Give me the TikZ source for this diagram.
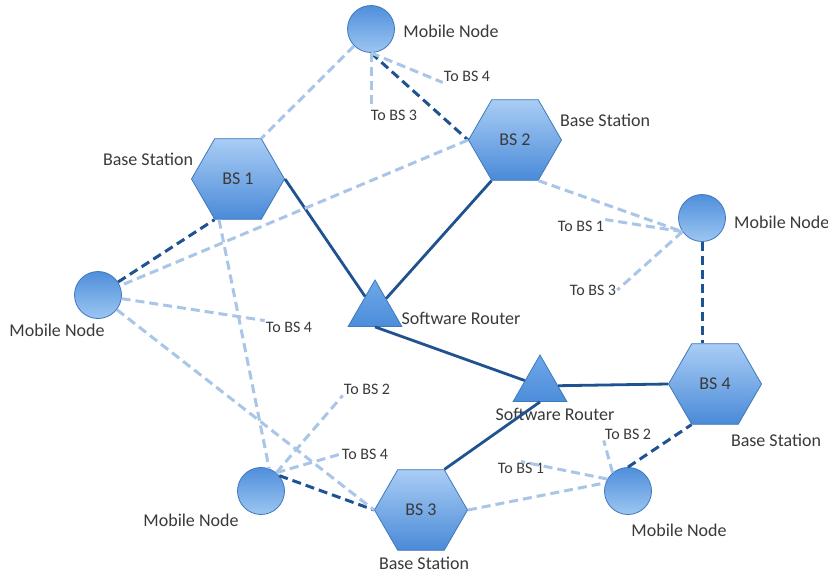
\documentclass[tikz,border=0pt]{standalone}
\usepackage{fontspec}
\setmainfont{Carlito}
\usetikzlibrary{shapes.geometric}
\definecolor{hexlight}{HTML}{A9CDF5}
\definecolor{hexdark}{HTML}{4A8AD8}
\definecolor{moblight}{HTML}{9CC6F2}
\definecolor{mobdark}{HTML}{4F8FDB}
\definecolor{routertop}{HTML}{6FA8E8}
\definecolor{routerbot}{HTML}{4C8CDA}
\definecolor{nodeedge}{HTML}{3F78BC}
\definecolor{linkdark}{HTML}{1F5290}
\definecolor{linklight}{HTML}{A9C6E8}
\definecolor{txt}{HTML}{3A3A3A}
\begin{document}
\begin{tikzpicture}[x=1pt,y=-1pt,
    basestn/.style={regular polygon,regular polygon sides=6,minimum size=93pt,inner sep=0pt,
        draw=nodeedge,line width=0.8pt,top color=hexlight,bottom color=hexdark,
        font=\fontsize{18}{20}\selectfont,text=txt},
    mobile/.style={circle,minimum size=47pt,inner sep=0pt,draw=nodeedge,line width=0.8pt,
        top color=mobdark,bottom color=moblight},
    router/.style={regular polygon,regular polygon sides=3,minimum size=62pt,inner sep=0pt,
        draw=nodeedge,line width=0.8pt,top color=routertop,bottom color=routerbot},
    lbl/.style={font=\fontsize{18}{20}\selectfont,text=txt,inner sep=1pt},
    tolbl/.style={font=\fontsize{16}{18}\selectfont,text=txt,inner sep=1pt},
    wired/.style={draw=linkdark,line width=2.8pt},
    primary/.style={draw=linkdark,line width=3pt,dash pattern=on 9pt off 5pt},
    backup/.style={draw=linklight,line width=3pt,dash pattern=on 9pt off 5pt}]
    \useasboundingbox[fill=white] (0,0) rectangle (828,573);

    % base stations, mobile nodes, routers
    \node[basestn] (bs1) at (238,179) {BS 1};
    \node[basestn] (bs2) at (515,140) {BS 2};
    \node[basestn] (bs3) at (421,510) {BS 3};
    \node[basestn] (bs4) at (715,384) {BS 4};
    \node[mobile] (mnT) at (371,29) {};
    \node[mobile] (mnR) at (702,218) {};
    \node[mobile] (mnL) at (98,295) {};
    \node[mobile] (mnBL) at (261,491) {};
    \node[mobile] (mnBR) at (628,491) {};
    \node[router] (r1) at (375,311) {};
    \node[router] (r2) at (540,386) {};

    % labels
    \node[lbl] (tMT) at (451,31) {Mobile Node};
    \node[lbl] (tB2) at (605,120) {Base Station};
    \node[lbl] (tB1) at (148,159) {Base Station};
    \node[lbl,anchor=west] (tMR) at (733,222) {Mobile Node};
    \node[lbl] (tML) at (57,330) {Mobile Node};
    \node[lbl] (tR1) at (461,318) {Software Router};
    \node[lbl] (tR2) at (555,414) {Software Router};
    \node[lbl] (tB4) at (776,440) {Base Station};
    \node[lbl] (tMBL) at (191,520) {Mobile Node};
    \node[lbl] (tMBR) at (679,530) {Mobile Node};
    \node[lbl] (tB3) at (424,563) {Base Station};
    \node[tolbl] (toT4) at (467,76) {To BS 4};
    \node[tolbl] (toT3) at (394,115) {To BS 3};
    \node[tolbl] (toR1) at (581,226) {To BS 1};
    \node[tolbl] (toR3) at (593,290) {To BS 3};
    \node[tolbl] (toL4) at (289,327) {To BS 4};
    \node[tolbl] (toBL2) at (367,389) {To BS 2};
    \node[tolbl] (toBL4) at (365,454) {To BS 4};
    \node[tolbl] (toBR2) at (628,434) {To BS 2};
    \node[tolbl] (toBR1) at (521,468) {To BS 1};

    % wired links to the routers
    \draw[wired] (bs1.0) -- (r1);
    \draw[wired] (bs2.240) -- (r1);
    \draw[wired] (r1.south) -- (r2);
    \draw[wired] (r2) -- (bs4.180);
    \draw[wired] (bs3.60) -- (r2.south);

    % attached base station
    \draw[primary] (mnT.south) -- (bs2.180);
    \draw[primary] (mnR.south) -- (mnR.south |- bs4.north);
    \draw[primary] (mnL) -- (bs1.240);
    \draw[primary] (mnBL.40) -- (bs3.180);
    \draw[primary] (mnBR.north) -- (bs4.240);

    % other base stations in range
    \draw[backup] (mnT) -- (bs1.60);
    \draw[backup] (mnT.south) -- (toT4.south west);
    \draw[backup] (mnT.south) -- (mnT.south |- toT3.north);
    \draw[backup] (bs2.180) -- (mnL);
    \draw[backup] (bs2.300) -- (mnR.215);
    \draw[backup] (mnR.215) -- (toR1.north east);
    \draw[backup] (mnR.215) -- (toR3.east);
    \draw[backup] (mnL) -- (toL4.north west);
    \draw[backup] (mnL) -- (bs3.180);
    \draw[backup] (bs1.245) -- (mnBL.70);
    \draw[backup] (mnBL.50) -- (toBL2.south west);
    \draw[backup] (mnBL.50) -- (toBL4.west);
    \draw[backup] (bs3.0) -- (mnBR.160);
    \draw[backup] (mnBR.150) -- (toBR1.north);
    \draw[backup] (mnBR.130) -- (toBR2.south west);
\end{tikzpicture}
\end{document}
